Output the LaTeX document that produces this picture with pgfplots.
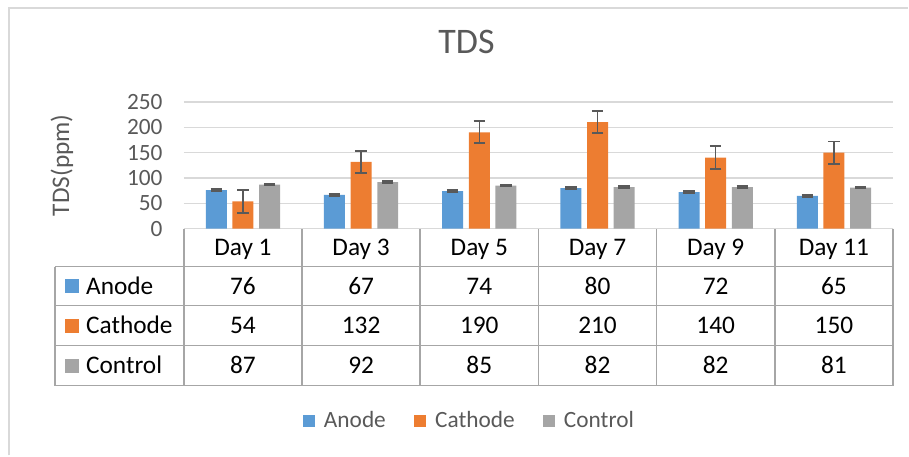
\documentclass[border=0pt]{standalone}
\usepackage{fontspec}
\setmainfont{Carlito}
\usepackage{pgfplots}
\pgfplotsset{compat=1.18}
\definecolor{anode}{HTML}{5B9BD5}
\definecolor{cathode}{HTML}{ED7D31}
\definecolor{control}{HTML}{A5A5A5}
\definecolor{txtgray}{HTML}{595959}
\definecolor{gridgray}{HTML}{D9D9D9}
\definecolor{tablegray}{HTML}{A6A6A6}
\definecolor{errgray}{HTML}{595959}
\newcommand{\tfont}{\fontsize{19}{22}\selectfont}
\newcommand{\kfont}{\fontsize{17.5}{20}\selectfont}
\begin{document}
\begin{tikzpicture}
\begin{scope}[x=0.75pt, y=-0.75pt, shift={(0pt,342pt)}]
  \path (0,0) rectangle (909,456);
  % outer chart border
  \draw[gridgray, line width=1.5pt] (9,456) -- (9,8) -- (909,8);
  % table grid
  \draw[tablegray, line width=1.1pt]
    (184,229) -- (894,229)
    (55,267) -- (894,267)
    (55,306) -- (894,306)
    (55,346) -- (894,346)
    (55,386) -- (894,386)
    (55,267) -- (55,386);
  \foreach \i in {0,...,6} {
    \draw[tablegray, line width=1.1pt] ({184+118.333*\i},229) -- ({184+118.333*\i},386);
  }
  % row keys
  \fill[anode]   (65,279.5) rectangle (79,293.5);
  \fill[cathode] (65,319)   rectangle (79,333);
  \fill[control] (65,359)   rectangle (79,373);
  \node[anchor=base west, inner sep=0pt, font=\tfont] at (86,294.7) {Anode};
  \node[anchor=base west, inner sep=0pt, font=\tfont] at (86,334.2) {Cathode};
  \node[anchor=base west, inner sep=0pt, font=\tfont] at (86,374.2) {Control};
  % table values
  \foreach \v [count=\i from 0] in {76,67,74,80,72,65}
    \node[anchor=base, inner sep=0pt, font=\tfont] at ({184+118.333*(\i+0.5)},294.7) {\v};
  \foreach \v [count=\i from 0] in {54,132,190,210,140,150}
    \node[anchor=base, inner sep=0pt, font=\tfont] at ({184+118.333*(\i+0.5)},334.2) {\v};
  \foreach \v [count=\i from 0] in {87,92,85,82,82,81}
    \node[anchor=base, inner sep=0pt, font=\tfont] at ({184+118.333*(\i+0.5)},374.2) {\v};
\end{scope}

\begin{axis}[
  at={(138pt,170.25pt)}, anchor=south west,
  scale only axis, width=532.5pt, height=95.25pt,
  xmin=-0.5, xmax=5.5, ymin=0, ymax=250,
  ybar, bar width=15.75pt,
  xtick={0,...,5},
  xticklabels={Day 1,Day 3,Day 5,Day 7,Day 9,Day 11},
  xticklabel style={anchor=base, yshift=-20.25pt, font=\tfont, text=black},
  ytick={0,50,...,250},
  yticklabel style={anchor=east, inner sep=0pt, xshift=-15.75pt, font=\kfont, text=txtgray},
  /pgf/number format/assume math mode=true,
  ymajorgrids, major grid style={gridgray, line width=1.1pt},
  axis line style={draw=none},
  major tick length=0pt,
  clip=false,
  ylabel={TDS(ppm)},
  ylabel style={at={(axis description cs:-0.1718,0.5)}, anchor=center, font=\tfont, text=txtgray},
  title={TDS},
  title style={at={(axis description cs:0.3986,1.409)}, anchor=center, font=\fontsize{27}{30}\selectfont, text=txtgray},
  error bars/y dir=both, error bars/y explicit,
  error bars/error bar style={draw=errgray, line width=1.1pt},
  error bars/error mark options={rotate=90, draw=errgray, line width=1.4pt, mark size=4.3pt},
  legend style={at={(axis description cs:0.4035,-1.512)}, anchor=center,
    draw=none, fill=none, inner sep=0pt, font=\kfont, text=txtgray,
    /tikz/every even column/.append style={column sep=19.5pt}},
  legend columns=3,
  legend image code/.code={\fill[#1] (0pt,-4.5pt) rectangle (9pt,4.5pt); \path (13.5pt,0pt);},
]
\addplot[fill=anode, draw=none, bar shift=-20pt] coordinates {
  (0,76) +- (0,2) (1,67) +- (0,2) (2,74) +- (0,2)
  (3,80) +- (0,2) (4,72) +- (0,2) (5,65) +- (0,2)};
\addplot[fill=cathode, draw=none, bar shift=0pt] coordinates {
  (0,54) +- (0,22.5) (1,132) +- (0,21.5) (2,190) +- (0,21.5)
  (3,210) +- (0,22) (4,140) +- (0,23) (5,150) +- (0,22)};
\addplot[fill=control, draw=none, bar shift=20pt] coordinates {
  (0,87) +- (0,1.5) (1,92) +- (0,1.5) (2,85) +- (0,1.5)
  (3,82) +- (0,1.5) (4,82) +- (0,1.5) (5,81) +- (0,1.5)};
\legend{Anode,Cathode,Control}
\end{axis}
\end{tikzpicture}
\end{document}
